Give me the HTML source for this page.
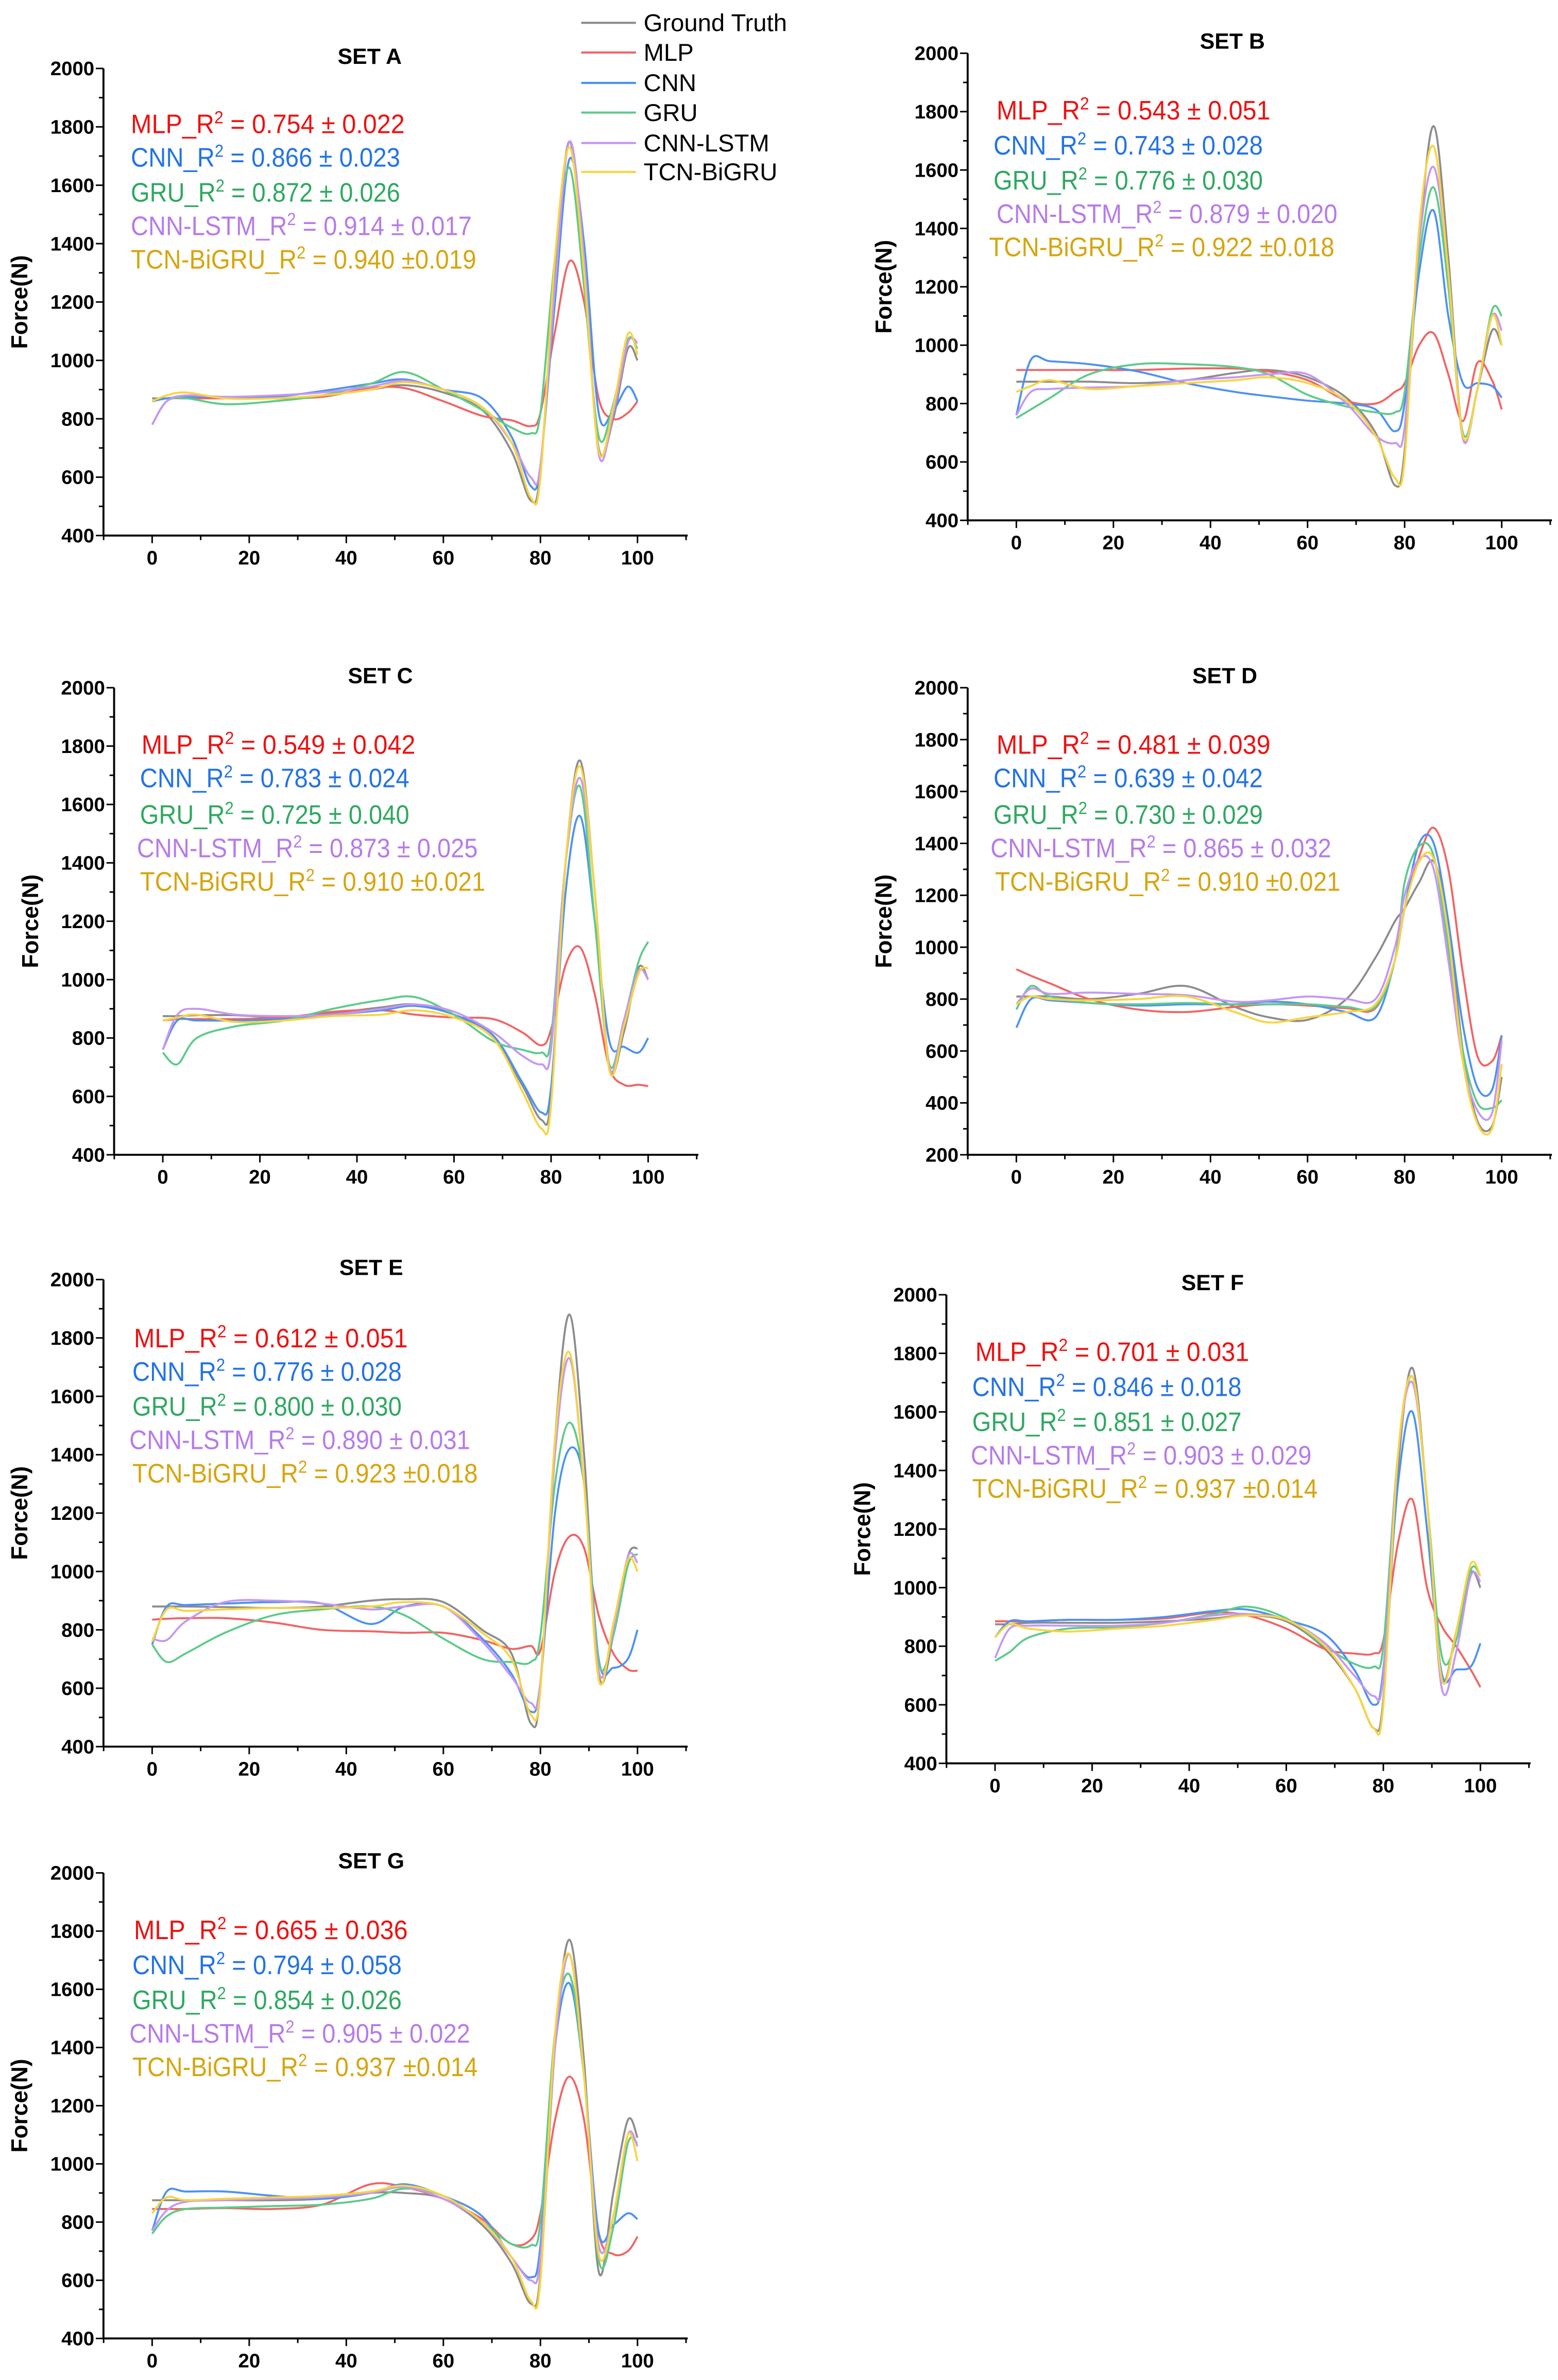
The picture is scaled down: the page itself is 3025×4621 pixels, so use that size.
<!DOCTYPE html>
<html>
<head>
<meta charset="utf-8">
<style>
html,body{margin:0;padding:0;background:#fff;}
svg{display:block;}
text{font-family:"Liberation Sans",Arial,sans-serif;}
</style>
</head>
<body>
<svg id="fig" xmlns="http://www.w3.org/2000/svg" width="3025" height="4621" viewBox="0 0 1024 1564.3" preserveAspectRatio="none">
<rect x="0" y="0" width="1024" height="1564.3" fill="#fff"/>
<g font-size="16" fill="#000">
  <line x1="382" y1="15" x2="418" y2="15" stroke="#8c8c8c" stroke-width="1.4"/><text x="423" y="20.5">Ground Truth</text>
  <line x1="382" y1="34.5" x2="418" y2="34.5" stroke="#f26464" stroke-width="1.4"/><text x="423" y="40">MLP</text>
  <line x1="382" y1="54.5" x2="418" y2="54.5" stroke="#4c92f2" stroke-width="1.4"/><text x="423" y="60">CNN</text>
  <line x1="382" y1="74" x2="418" y2="74" stroke="#5ccb8a" stroke-width="1.4"/><text x="423" y="79.5">GRU</text>
  <line x1="382" y1="94" x2="418" y2="94" stroke="#c597f2" stroke-width="1.4"/><text x="423" y="99.5">CNN-LSTM</text>
  <line x1="382" y1="113" x2="418" y2="113" stroke="#f8d440" stroke-width="1.4"/><text x="423" y="118.5">TCN-BiGRU</text>
</g>
</svg>
<script>
// shared x grid (% of cycle)
const xGrid = [0,3,7,15,25,35,45,52,60,68,74,78,80,83,86,89,92,95,98,100];
const xTicks = [0,20,40,60,80,100];
const seriesNames = ["Ground Truth","MLP","CNN","GRU","CNN-LSTM","TCN-BiGRU"];

// SET A
const setA_GT   = [870,870,875,875,870,880,900,915,890,830,690,520,620,1300,1750,1300,700,800,1040,1000];
const setA_MLP  = [860,870,870,870,870,875,905,905,860,810,795,775,820,1100,1340,1200,870,800,820,860];
const setA_CNN  = [860,870,875,875,875,895,920,935,900,870,740,570,640,1200,1690,1400,820,830,910,860];
const setA_GRU  = [780,860,870,850,860,880,920,960,900,830,770,750,820,1350,1660,1250,740,850,1070,1040];
const setA_LSTM = [780,860,880,875,880,890,910,930,900,840,720,600,640,1250,1750,1350,680,820,1060,1060];
const setA_TCN  = [860,880,890,870,870,880,900,925,900,840,720,530,600,1350,1730,1300,690,840,1090,1020];
// SET B
const setB_GT   = [875,875,875,875,870,880,905,915,890,820,700,520,640,1350,1750,1300,690,850,1050,1000];
const setB_MLP  = [915,915,915,915,915,920,920,910,880,810,800,840,870,1000,1040,900,740,940,880,780];
const setB_CNN  = [760,950,945,935,910,870,840,825,810,800,780,705,800,1250,1460,1100,870,870,860,820];
const setB_GRU  = [750,780,820,900,935,935,925,900,830,790,770,770,840,1300,1540,1200,700,850,1120,1100];
const setB_LSTM = [760,840,850,855,860,880,890,900,900,800,690,665,720,1350,1610,1250,680,850,1100,1050];
const setB_TCN  = [840,860,880,850,860,870,880,890,870,810,690,545,610,1400,1680,1250,690,850,1100,1000];
// SET C
const setC_GT   = [875,875,878,878,870,885,905,915,880,800,640,520,600,1400,1750,1300,700,820,1040,1000];
const setC_MLP  = [860,865,865,865,870,890,895,880,870,865,820,775,830,1050,1110,950,700,640,640,635];
const setC_CNN  = [760,860,860,860,865,880,895,910,880,810,650,545,630,1300,1560,1200,790,770,750,800];
const setC_GRU  = [750,710,800,840,860,900,930,940,880,790,760,750,800,1400,1660,1200,710,860,1060,1130];
const setC_LSTM = [760,880,900,880,875,880,900,915,890,820,740,710,760,1400,1690,1300,700,860,1030,1000];
const setC_TCN  = [860,870,880,855,860,875,880,895,870,800,620,490,570,1400,1730,1300,690,840,1020,1040];
// SET D
const setD_GT   = [810,810,810,800,820,850,770,730,720,800,960,1100,1150,1250,1330,1100,600,330,310,500];
const setD_MLP  = [915,890,860,800,760,750,770,780,775,765,765,950,1150,1350,1460,1300,900,580,560,660];
const setD_CNN  = [690,800,795,785,775,780,780,790,780,750,730,950,1150,1400,1400,1100,700,460,450,660];
const setD_GRU  = [760,850,810,785,780,785,780,780,780,770,770,950,1250,1390,1350,1000,600,400,380,410];
const setD_LSTM = [780,840,820,825,820,815,790,795,810,800,800,1000,1200,1340,1300,950,560,370,360,640];
const setD_TCN  = [780,810,800,795,800,810,750,710,730,750,780,950,1150,1330,1340,1050,560,320,300,550];
// SET E
const setE_GT   = [880,880,880,878,875,880,900,905,895,800,720,480,600,1450,1880,1400,650,780,1050,1080];
const setE_MLP  = [835,838,840,840,825,800,795,790,790,765,735,745,730,1000,1120,1080,850,720,665,660];
const setE_CNN  = [750,880,885,890,895,890,820,880,880,770,650,520,620,1200,1420,1300,700,670,700,800];
const setE_GRU  = [750,690,720,790,850,870,880,850,770,700,690,690,780,1300,1510,1300,690,780,1020,1060];
const setE_LSTM = [770,765,830,895,900,890,870,880,880,760,640,550,620,1400,1730,1300,660,800,1050,1030];
const setE_TCN  = [760,870,865,870,875,875,880,895,880,790,700,510,600,1450,1750,1300,630,820,1040,1000];
// SET F
const setF_GT   = [875,875,880,880,880,885,895,905,885,790,660,520,620,1400,1750,1300,700,850,1050,1000];
const setF_MLP  = [885,885,885,890,890,895,915,905,860,790,775,775,820,1150,1300,1000,870,800,720,660];
const setF_CNN  = [830,885,885,890,890,900,920,925,890,840,720,600,720,1350,1600,1200,710,720,730,810];
const setF_GRU  = [750,780,830,860,865,880,910,935,895,800,740,730,800,1450,1720,1300,770,820,1060,1040];
const setF_LSTM = [760,860,870,870,870,880,905,910,890,810,700,630,700,1450,1700,1300,660,780,1040,1020];
const setF_TCN  = [830,875,860,850,860,870,890,905,890,800,660,520,600,1450,1720,1300,690,850,1080,1040];
// SET G
const setG_GT   = [875,875,875,875,875,880,900,900,880,790,660,520,620,1400,1770,1350,630,900,1150,1090];
const setG_MLP  = [845,845,845,848,845,860,930,920,880,810,725,740,830,1150,1300,1150,760,690,700,750];
const setG_CNN  = [770,905,905,905,890,880,900,930,890,820,680,610,720,1400,1620,1300,765,790,830,810];
const setG_GRU  = [760,820,845,850,855,860,880,915,890,800,725,720,800,1450,1650,1300,670,780,1070,1070];
const setG_LSTM = [770,840,870,875,880,885,900,920,880,800,680,600,680,1400,1720,1300,720,820,1100,1060];
const setG_TCN  = [830,885,875,880,885,890,905,925,890,800,680,530,600,1450,1720,1300,690,820,1100,1010];

const setTitles = ["SET A","SET B","SET C","SET D","SET E","SET F","SET G"];
const mlpScores  = ["0.754 \u00b1 0.022","0.543 \u00b1 0.051","0.549 \u00b1 0.042","0.481 \u00b1 0.039","0.612 \u00b1 0.051","0.701 \u00b1 0.031","0.665 \u00b1 0.036"];
const cnnScores  = ["0.866 \u00b1 0.023","0.743 \u00b1 0.028","0.783 \u00b1 0.024","0.639 \u00b1 0.042","0.776 \u00b1 0.028","0.846 \u00b1 0.018","0.794 \u00b1 0.058"];
const gruScores  = ["0.872 \u00b1 0.026","0.776 \u00b1 0.030","0.725 \u00b1 0.040","0.730 \u00b1 0.029","0.800 \u00b1 0.030","0.851 \u00b1 0.027","0.854 \u00b1 0.026"];
const lstmScores = ["0.914 \u00b1 0.017","0.879 \u00b1 0.020","0.873 \u00b1 0.025","0.865 \u00b1 0.032","0.890 \u00b1 0.031","0.903 \u00b1 0.029","0.905 \u00b1 0.022"];
const tcnScores  = ["0.940 \u00b10.019","0.922 \u00b10.018","0.910 \u00b10.021","0.910 \u00b10.021","0.923 \u00b10.018","0.937 \u00b10.014","0.937 \u00b10.014"];

const allSets = [
  [setA_GT,setA_MLP,setA_CNN,setA_GRU,setA_LSTM,setA_TCN],
  [setB_GT,setB_MLP,setB_CNN,setB_GRU,setB_LSTM,setB_TCN],
  [setC_GT,setC_MLP,setC_CNN,setC_GRU,setC_LSTM,setC_TCN],
  [setD_GT,setD_MLP,setD_CNN,setD_GRU,setD_LSTM,setD_TCN],
  [setE_GT,setE_MLP,setE_CNN,setE_GRU,setE_LSTM,setE_TCN],
  [setF_GT,setF_MLP,setF_CNN,setF_GRU,setF_LSTM,setF_TCN],
  [setG_GT,setG_MLP,setG_CNN,setG_GRU,setG_LSTM,setG_TCN]
];
const yMins = [400,400,400,200,400,400,400];

const panels = [
  {ax:68, top:45, bot:352, tx:243, ann:[[86,81],[86,103],[86,126],[86,148],[86,170]]},
  {ax:636,top:35, bot:342, tx:810, ann:[[655,72],[653,95],[653,118],[655,140],[650,162]]},
  {ax:75, top:452,bot:759, tx:250, ann:[[93,489],[92,511],[92,535],[90,557],[92,579]]},
  {ax:636,top:452,bot:759, tx:805, ann:[[655,489],[653,511],[653,535],[651,557],[654,579]]},
  {ax:68, top:841,bot:1148,tx:244, ann:[[88,879],[87,901],[87,924],[85,946],[87,968]]},
  {ax:622,top:851,bot:1159,tx:797, ann:[[641,888],[639,911],[639,934],[638,956],[639,978]]},
  {ax:68, top:1231,bot:1537,tx:244,ann:[[88,1268],[87,1291],[87,1314],[85,1336],[87,1358]]}
];
const lineColors = ["#8c8c8c","#f26464","#4c92f2","#5ccb8a","#c597f2","#f8d440"];
const textColors = ["#000","#f01010","#2273e6","#2fa860","#b77be8","#d6a50e"];
const annPrefix = ["MLP_R","CNN_R","GRU_R","CNN-LSTM_R","TCN-BiGRU_R"];
const annWidths = [180,177,177,224,227];
const seriesKeys = ["ground-truth","mlp","cnn","gru","cnn-lstm","tcn-bigru"];
const NS = "http://www.w3.org/2000/svg";
const svg = document.getElementById("fig");

function mk(tag, attrs, parent){
  const e = document.createElementNS(NS, tag);
  for (const k in attrs) e.setAttribute(k, attrs[k]);
  parent.appendChild(e);
  return e;
}
function smoothPath(pts){
  let d = "M" + pts[0][0].toFixed(2) + "," + pts[0][1].toFixed(2);
  for (let i=0;i<pts.length-1;i++){
    const p0 = pts[Math.max(0,i-1)], p1 = pts[i], p2 = pts[i+1], p3 = pts[Math.min(pts.length-1,i+2)];
    const c1x = p1[0] + (p2[0]-p0[0])/6, c1y = p1[1] + (p2[1]-p0[1])/6;
    const c2x = p2[0] - (p3[0]-p1[0])/6, c2y = p2[1] - (p3[1]-p1[1])/6;
    d += " C" + c1x.toFixed(2)+","+c1y.toFixed(2)+" "+c2x.toFixed(2)+","+c2y.toFixed(2)+" "+p2[0].toFixed(2)+","+p2[1].toFixed(2);
  }
  return d;
}

panels.forEach((P, si) => {
  const g = mk("g", {}, svg);
  
  
  const yMin = yMins[si], yMax = 2000;
  const x0 = P.ax + 32, x100 = x0 + 319;
  const xEnd = P.ax + 384;
  const xs = v => x0 + (v/100)*(x100-x0);
  const ys = v => P.bot - (v - yMin)/(yMax - yMin)*(P.bot - P.top);

  allSets[si].forEach((vals, k) => {
    const pts = xGrid.map((xv, i) => [xs(xv), ys(vals[i])]);
    const p = mk("path", {d: smoothPath(pts), fill:"none", stroke: lineColors[k], "stroke-width":"1.3", "stroke-linejoin":"round"}, g);
    
    
  });

  const ya = mk("line", {x1:P.ax, y1:P.top, x2:P.ax, y2:P.bot, stroke:"#000", "stroke-width":"1.3"}, g);
  
  
  const xa = mk("line", {x1:P.ax, y1:P.bot, x2:xEnd, y2:P.bot, stroke:"#000", "stroke-width":"1.3"}, g);
  
  

  for (let v = yMin; v <= yMax; v += 100){
    const major = (v % 200 === 0);
    mk("line", {x1:P.ax - (major?5:3), y1:ys(v), x2:P.ax, y2:ys(v), stroke:"#000", "stroke-width":"1"}, g);
    if (major){
      const t = mk("text", {x:P.ax-6, y:ys(v)+4.5, "text-anchor":"end", "font-size":"13", "font-weight":"bold"}, g);
      t.textContent = v;
      
      
    }
  }
  for (let v = -10; v <= 110; v += 10){
    const major = (v % 20 === 0);
    mk("line", {x1:xs(v), y1:P.bot, x2:xs(v), y2:P.bot + (major?5:3), stroke:"#000", "stroke-width":"1"}, g);
  }
  xTicks.forEach(v => {
    const t = mk("text", {x:xs(v), y:P.bot+19, "text-anchor":"middle", "font-size":"13", "font-weight":"bold"}, g);
    t.textContent = v;
    
    
  });

  const yt = mk("text", {transform:"translate(" + (P.ax-50) + "," + ((P.top+P.bot)/2) + ") rotate(-90)", "text-anchor":"middle", "font-size":"15", "font-weight":"bold"}, g);
  yt.textContent = "Force(N)";
  
  

  const tt = mk("text", {x:P.tx, y:P.top-3, "text-anchor":"middle", "font-size":"14.5", "font-weight":"bold"}, g);
  tt.textContent = setTitles[si];
  
  

  const scores = [mlpScores[si], cnnScores[si], gruScores[si], lstmScores[si], tcnScores[si]];
  scores.forEach((s, k) => {
    const [ax, ay] = P.ann[k];
    const t = mk("text", {x:ax, y:ay+6.5, "font-size":"17.5", fill:textColors[k+1], textLength:annWidths[k], lengthAdjust:"spacingAndGlyphs"}, g);
    const a = mk("tspan", {}, t); a.textContent = annPrefix[k];
    const b = mk("tspan", {dy:"-6.5", "font-size":"11.5"}, t); b.textContent = "2";
    const c = mk("tspan", {dy:"6.5"}, t); c.textContent = (k===0 ? " =  " : " = ") + s;
    
    
  });
});
</script>
</body>
</html>
